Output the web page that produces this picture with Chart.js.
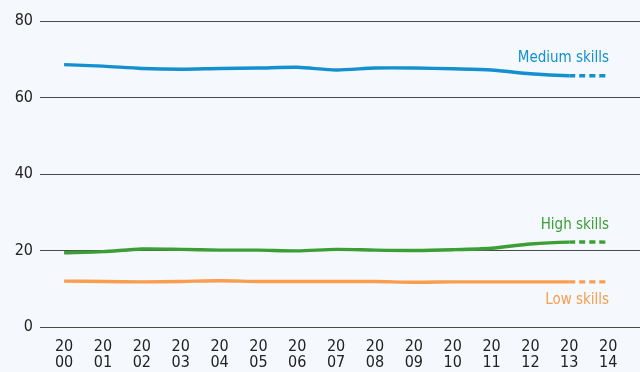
<!DOCTYPE html>
<html>
<head>
<meta charset="utf-8">
<script src="https://cdn.jsdelivr.net/npm/chart.js@4/dist/chart.umd.min.js"></script>
<style>
  html, body { margin: 0; padding: 0; background: #f5f8fc; }
  #wrap { width: 640px; height: 372px; }
</style>
</head>
<body>
<div id="wrap"><canvas id="skillsChart"></canvas></div>
<script>
var years = [2000, 2001, 2002, 2003, 2004, 2005, 2006, 2007, 2008, 2009, 2010, 2011, 2012, 2013, 2014];
var mediumSkills = [68.6, 68.2, 67.6, 67.4, 67.6, 67.7, 67.9, 67.2, 67.7, 67.7, 67.5, 67.2, 66.2, 65.7, 65.7];
var highSkills = [19.4, 19.7, 20.4, 20.3, 20.1, 20.1, 19.9, 20.3, 20.1, 20.0, 20.2, 20.6, 21.7, 22.2, 22.2];
var lowSkills = [12.0, 11.9, 11.8, 11.9, 12.1, 11.9, 11.9, 11.9, 11.9, 11.7, 11.8, 11.8, 11.8, 11.8, 11.8];
var seriesNames = ['Medium skills', 'High skills', 'Low skills'];
var yTicks = [0, 20, 40, 60, 80];

var fontFam = "'Liberation Sans Narrow', 'DejaVu Sans Condensed', 'Roboto Condensed', 'Liberation Sans', sans-serif";
var colors = ['#1290d0', '#3b9f35', '#f89e4e'];
var labelOffsets = [-18, -17, 18];

function points(vals) {
    return years.map(function (y, i) { return { x: y, y: vals[i] }; });
}

// last year is a projection -> dashed
function dashLast(ctx) {
    return ctx.p1DataIndex === years.length - 1 ? [6, 4] : undefined;
}

var seriesLabels = {
    id: 'seriesLabels',
    afterDatasetsDraw: function (chart) {
        var c = chart.ctx;
        var xs = chart.scales.x, ys = chart.scales.y;
        c.save();
        c.font = '15px ' + fontFam;
        c.textAlign = 'right';
        c.textBaseline = 'middle';
        chart.data.datasets.forEach(function (ds, i) {
            var last = ds.data[ds.data.length - 1];
            c.fillStyle = colors[i];
            c.fillText(ds.label, xs.getPixelForValue(last.x) + 1, ys.getPixelForValue(last.y) + labelOffsets[i]);
        });
        c.restore();
    }
};

var skillsChart = new Chart(document.getElementById('skillsChart').getContext('2d'), {
    type: 'line',
    data: {
        datasets: [mediumSkills, highSkills, lowSkills].map(function (vals, i) {
            return {
                label: seriesNames[i],
                data: points(vals),
                borderColor: colors[i],
                borderWidth: 3.4,
                pointRadius: 0,
                tension: 0.25,
                fill: false,
                segment: { borderDash: dashLast }
            };
        })
    },
    options: {
        responsive: true,
        maintainAspectRatio: false,
        animation: false,
        layout: { padding: { top: 21, right: 0, left: 0, bottom: 0 } },
        plugins: {
            legend: { display: false },
            tooltip: { enabled: false }
        },
        scales: {
            x: {
                type: 'linear',
                min: 1999.38,
                max: 2014.82,
                afterBuildTicks: function (scale) {
                    scale.ticks = years.map(function (v) { return { value: v }; });
                },
                afterFit: function (scale) { scale.height = 45; },
                grid: { display: false, drawTicks: false },
                border: { display: false },
                ticks: {
                    autoSkip: false,
                    maxRotation: 0,
                    padding: 12,
                    color: '#222',
                    font: { family: fontFam, size: 16, lineHeight: 1.0 },
                    callback: function (v) {
                        var s = String(v);
                        return [s.slice(0, 2), s.slice(2)];
                    }
                }
            },
            y: {
                min: 0,
                max: 80,
                afterBuildTicks: function (scale) {
                    scale.ticks = yTicks.map(function (v) { return { value: v }; });
                },
                afterFit: function (scale) { scale.width = 40; },
                grid: { color: '#4a4a4a', lineWidth: 1, drawTicks: false },
                border: { display: false },
                ticks: {
                    padding: 7,
                    color: '#222',
                    font: { family: fontFam, size: 16 }
                }
            }
        }
    },
    plugins: [seriesLabels]
});
</script>
</body>
</html>
